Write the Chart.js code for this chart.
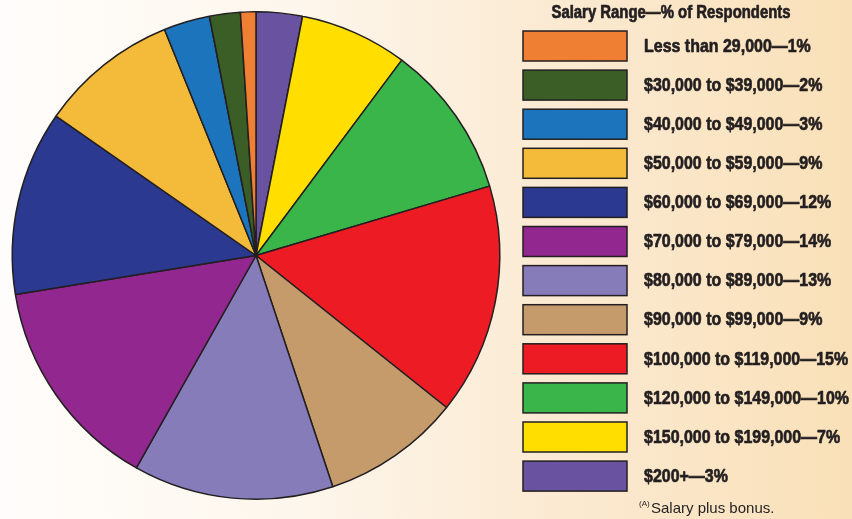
<!DOCTYPE html>
<html>
<head>
<meta charset="utf-8">
<script src="https://cdn.jsdelivr.net/npm/chart.js@4"></script>
<style>
  html, body { margin: 0; padding: 0; }
  body {
    width: 852px; height: 519px; overflow: hidden;
    background: linear-gradient(to right, #fffdfb 0%, #fdf6ec 35%, #fbead2 65%, #f9e0b8 100%);
  }
  #wrap { position: relative; width: 852px; height: 519px; }
</style>
</head>
<body>
<div id="wrap"><canvas id="pie" width="852" height="519"></canvas></div>
<script>
// legend order (top to bottom)
const ranges = [
  'Less than 29,000', '$30,000 to $39,000', '$40,000 to $49,000', '$50,000 to $59,000',
  '$60,000 to $69,000', '$70,000 to $79,000', '$80,000 to $89,000', '$90,000 to $99,000',
  '$100,000 to $119,000', '$120,000 to $149,000', '$150,000 to $199,000', '$200+'
];
const percents = [1, 2, 3, 9, 12, 14, 13, 9, 15, 10, 7, 3];
const colors = [
  '#ef7f33', '#3b5e27', '#1c75bc', '#f4bb3a', '#2b3990', '#92278f',
  '#877cba', '#c59b6c', '#ed1c24', '#39b54a', '#ffde00', '#6953a0'
];
const legendTitle = 'Salary Range\u2014% of Respondents';
const footnote = 'Salary plus bonus.';

const ink = '#231f20';
const boldFont = 'bold 19px "Liberation Sans", Arial, sans-serif';

// pie runs clockwise from the top, which is the legend order reversed
const pieLabels = ranges.slice().reverse();
const pieValues = percents.slice().reverse();
const pieColors = colors.slice().reverse();

// no condensed face installed, so squeeze a normal bold one horizontally
// (plus a thin stroke to get closer to the heavy original)
function narrowText(c, text, x, y, k, align) {
  c.save();
  c.textAlign = align;
  c.translate(x, y);
  c.scale(k, 1);
  c.strokeStyle = ink;
  c.lineWidth = 0.7;
  c.lineJoin = 'round';
  c.fillText(text, 0, 0);
  c.strokeText(text, 0, 0);
  c.restore();
}

const sideLegend = {
  id: 'sideLegend',
  afterDraw(chart) {
    const c = chart.ctx;
    c.save();
    c.fillStyle = ink;
    c.textBaseline = 'middle';
    c.font = 'bold 18px "Liberation Sans", Arial, sans-serif';
    const kt = 239 / c.measureText(legendTitle).width;
    narrowText(c, legendTitle, 671, 13, kt, 'center');

    const items = ranges.map((r, i) => r + '\u2014' + percents[i] + '%');
    c.font = boldFont;
    const widest = Math.max(...items.map(t => c.measureText(t).width));
    const k = 205 / widest;
    items.forEach((t, i) => {
      const y = 31 + i * 39.1;
      c.fillStyle = colors[i];
      c.fillRect(523, y, 104, 30);
      c.strokeStyle = ink;
      c.lineWidth = 1.5;
      c.strokeRect(523, y, 104, 30);
      c.fillStyle = ink;
      c.font = boldFont;
      narrowText(c, t, 644, y + 15.5, k, 'left');
    });
    // footnote
    c.textBaseline = 'alphabetic';
    c.textAlign = 'left';
    c.font = '8px "Liberation Sans", Arial, sans-serif';
    c.fillText('(A)', 639, 506);
    c.font = '15px "Liberation Sans", Arial, sans-serif';
    c.fillText(footnote, 651, 513);
    c.restore();
  }
};

new Chart(document.getElementById('pie'), {
  type: 'pie',
  data: {
    labels: pieLabels,
    datasets: [{
      data: pieValues,
      backgroundColor: pieColors,
      borderColor: ink,
      borderWidth: 1.5
    }]
  },
  options: {
    responsive: false,
    animation: false,
    layout: { padding: { left: 11, right: 351, top: 11, bottom: 19 } },
    plugins: {
      legend: { display: false },
      tooltip: { enabled: false }
    }
  },
  plugins: [sideLegend]
});
</script>
</body>
</html>
